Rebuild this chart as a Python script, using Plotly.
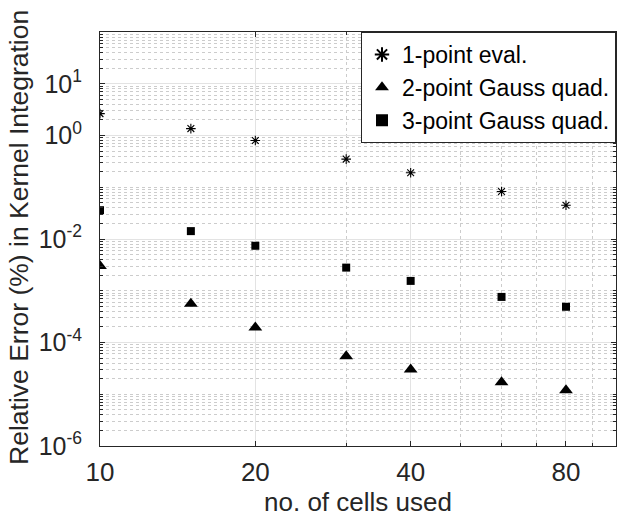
import plotly.graph_objects as go

# ---- data ----
cells = [10, 15, 20, 30, 40, 60, 80]
err_1pt = [2.65, 1.36, 0.80, 0.35, 0.19, 0.083, 0.045]
err_2pt = [3.0e-3, 5.6e-4, 1.95e-4, 5.4e-5, 3.0e-5, 1.7e-5, 1.2e-5]
err_3pt = [0.036, 0.0142, 0.0074, 0.0028, 0.00155, 0.00076, 0.00049]

series_names = ["1-point eval.", "2-point Gauss quad.", "3-point Gauss quad."]

x_tickvals = [10, 20, 40, 80]
x_ticktext = ["10", "20", "40", "80"]
x_minor = [30, 50, 60, 70, 90, 100]

y_tickvals = [1e-6, 1e-4, 1e-2, 1e0, 1e1]
y_ticktext = ["10<sup>-6</sup>", "10<sup>-4</sup>", "10<sup>-2</sup>", "10<sup>0</sup>", "10<sup>1</sup>"]
y_minor = []
for d in range(-6, 2):
    for k in range(1, 10):
        v = k * 10.0 ** d
        if v not in y_tickvals:
            y_minor.append(v)
y_minor.append(100.0)

x_title = "no. of cells used"
y_title = "Relative Error (%) in Kernel Integration"

FONT = "Liberation Sans"
TXT = "#262626"

fig = go.Figure()
fig.add_trace(go.Scatter(x=cells, y=err_1pt, mode="markers", name=series_names[0],
                         marker=dict(symbol="asterisk-open", size=8, color="#000000",
                                     line=dict(color="#1a1a1a", width=1.1))))
fig.add_trace(go.Scatter(x=cells, y=err_2pt, mode="markers", name=series_names[1],
                         marker=dict(symbol="triangle-up", size=12, color="#000000")))
fig.add_trace(go.Scatter(x=cells, y=err_3pt, mode="markers", name=series_names[2],
                         marker=dict(symbol="square", size=8, color="#000000")))

axis_common = dict(
    showline=True, linecolor=TXT, linewidth=1, mirror="allticks",
    ticks="inside", ticklen=5, tickcolor=TXT,
    showgrid=True, gridcolor="#e3e3e3", gridwidth=1,
    zeroline=False, automargin=False,
)

fig.update_xaxes(
    type="log", range=[1, 2],
    tickmode="array", tickvals=x_tickvals, ticktext=x_ticktext,
    ticklabelstandoff=3,
    tickfont=dict(family=FONT, size=26, color=TXT),
    minor=dict(tickmode="array", tickvals=x_minor, ticks="inside", ticklen=3,
               tickcolor=TXT, showgrid=True, gridcolor="#cccccc", griddash="dot", gridwidth=1),
    title=dict(text=x_title, font=dict(family=FONT, size=26, color=TXT), standoff=3),
    **axis_common,
)
fig.update_yaxes(
    type="log", range=[-6, 2],
    tickmode="array", tickvals=y_tickvals, ticktext=y_ticktext,
    ticklabelstandoff=12,
    tickfont=dict(family=FONT, size=25, color=TXT),
    minor=dict(tickmode="array", tickvals=y_minor, ticks="inside", ticklen=3,
               tickcolor=TXT, showgrid=True, gridcolor="#cccccc", griddash="dot", gridwidth=1),
    **axis_common,
)

fig.add_annotation(
    text=y_title, textangle=-90,
    xref="paper", yref="paper", x=-0.157, y=0.505,
    xanchor="center", yanchor="middle", showarrow=False,
    font=dict(family=FONT, size=26.5, color=TXT),
)

fig.update_layout(
    width=617, height=517,
    margin=dict(l=100, r=1, t=32, b=71),
    paper_bgcolor="white", plot_bgcolor="white",
    showlegend=True,
    legend=dict(x=1, xanchor="right", y=1, yanchor="top",
                bgcolor="white", bordercolor=TXT, borderwidth=1,
                font=dict(family=FONT, size=23, color="#000000"),
                itemsizing="constant", tracegroupgap=0),
    font=dict(family=FONT, color=TXT),
)

fig.write_html("out.html", config={"displayModeBar": False},
               post_script="document.body.style.margin='0';")
